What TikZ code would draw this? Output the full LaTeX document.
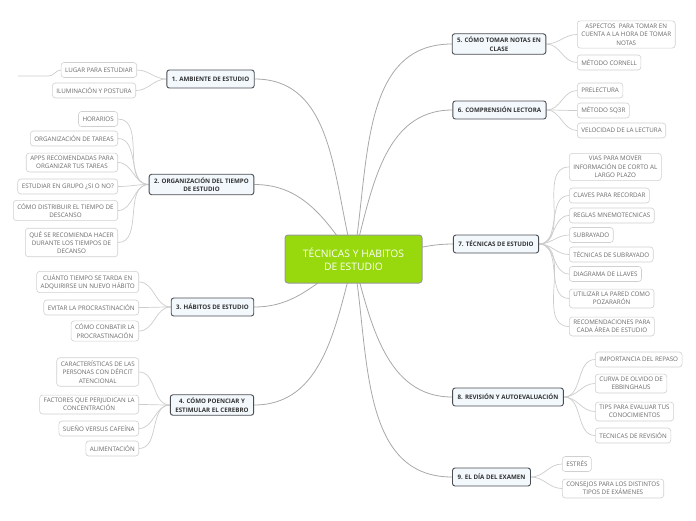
\documentclass[tikz,border=0pt]{standalone}
\usepackage{fontspec}
\setmainfont{Open Sans}
\usetikzlibrary{positioning,backgrounds}
\definecolor{rootgreen}{HTML}{97D90D}
\definecolor{branchfill}{HTML}{F3F8FD}
\definecolor{branchline}{HTML}{4A4D52}
\definecolor{leafline}{HTML}{D0D0D0}
\definecolor{leaftext}{HTML}{6A6A6A}
\definecolor{linkgray}{HTML}{A8A8A8}
\definecolor{twiggray}{HTML}{CCCCCC}

\begin{document}
\begin{tikzpicture}[x=1pt,y=-1pt,
root/.style={draw=gray!80,line width=1pt,fill=rootgreen,rounded corners=3pt,text=white,
  align=center,font=\fontsize{10.3}{13.5}\selectfont,minimum width=137pt,minimum height=48pt},
branch/.style={draw=branchline,line width=0.9pt,fill=branchfill,rounded corners=2.5pt,text=black!80,
  align=center,font=\fontsize{6.2}{8.6}\selectfont\bfseries,inner xsep=5pt,inner ysep=3pt,minimum height=18pt},
leaf/.style={draw=leafline,line width=0.6pt,fill=white,rounded corners=3pt,text=leaftext,
  align=center,font=\fontsize{6.25}{8.3}\selectfont,inner xsep=4pt,inner ysep=3pt,minimum height=15pt},
link/.style={draw=linkgray,line width=0.8pt},
twig/.style={draw=twiggray,line width=0.7pt}]
\useasboundingbox (0,0) rectangle (696,520);

% centre
\node[root] (T) at (353.5,259) {TÉCNICAS Y HABITOS\\DE ESTUDIO};

% main topics
\node[branch] (B1) at (210.5,79) {1. AMBIENTE DE ESTUDIO};
\node[branch] (B2) at (201.5,184.5) {2. ORGANIZACIÓN DEL TIEMPO\\DE ESTUDIO};
\node[branch] (B3) at (212.5,307) {3. HÁBITOS DE ESTUDIO};
\node[branch] (B4) at (212,405) {4. CÓMO POENCIAR Y\\ESTIMULAR EL CEREBRO};
\node[branch] (B5) at (499,44) {5. CÓMO TOMAR NOTAS EN\\CLASE};
\node[branch] (B6) at (499.5,110) {6. COMPRENSIÓN LECTORA};
\node[branch] (B7) at (496,244) {7. TÉCNICAS DE ESTUDIO};
\node[branch] (B8) at (508,397) {8. REVISIÓN Y AUTOEVALUACIÓN};
\node[branch] (B9) at (491.5,477) {9. EL DÍA DEL EXAMEN};

% 1
\node[leaf,anchor=east] (L11) at (137,70) {LUGAR PARA ESTUDIAR};
\node[leaf,anchor=east] (L12) at (136,90.5) {ILUMINACIÓN Y POSTURA};
\coordinate (L1x) at (18,76);
% 2
\node[leaf,anchor=east] (L21) at (118,119) {HORARIOS};
\node[leaf,anchor=east] (L22) at (118,138.5) {ORGANIZACIÓN DE TAREAS};
\node[leaf,anchor=east] (L23) at (118,162.5) {APPS RECOMENDADAS PARA\\ORGANIZAR TUS TAREAS};
\node[leaf,anchor=east] (L24) at (118,186.5) {ESTUDIAR EN GRUPO ¿SI O NO?};
\node[leaf,anchor=east] (L25) at (118,210.5) {CÓMO DISTRIBUIR EL TIEMPO DE\\DESCANSO};
\node[leaf,anchor=east] (L26) at (118,242.5) {QUÉ SE RECOMIENDA HACER\\DURANTE LOS TIEMPOS DE\\DECANSO};
% 3
\node[leaf,anchor=east] (L31) at (139,282) {CUÁNTO TIEMPO SE TARDA EN\\ADQUIRIRSE UN NUEVO HÁBITO};
\node[leaf,anchor=east] (L32) at (139,307.5) {EVITAR LA PROCRASTINACIÓN};
\node[leaf,anchor=east] (L33) at (139,331) {CÓMO CONBATIR LA\\PROCRASTINACIÓN};
% 4
\node[leaf,anchor=east] (L41) at (139,372) {CARACTERÍSTICAS DE LAS\\PERSONAS CON DÉFICIT\\ATENCIONAL};
\node[leaf,anchor=east] (L42) at (139,404.5) {FACTORES QUE PERJUDICAN LA\\CONCENTRACIÓN};
\node[leaf,anchor=east] (L43) at (139,428.5) {SUEÑO VERSUS CAFEÍNA};
\node[leaf,anchor=east] (L44) at (139,448.5) {ALIMENTACIÓN};
% 5
\node[leaf,anchor=west] (L51) at (577,34.5) {ASPECTOS \ PARA TOMAR EN\\CUENTA A LA HORA DE TOMAR\\NOTAS};
\node[leaf,anchor=west] (L52) at (577,62.5) {MÉTODO CORNELL};
% 6
\node[leaf,anchor=west] (L61) at (577,90.5) {PRELECTURA};
\node[leaf,anchor=west] (L62) at (577,110.5) {MÉTODO SQ3R};
\node[leaf,anchor=west] (L63) at (577,130.5) {VELOCIDAD DE LA LECTURA};
% 7
\node[leaf,anchor=west] (L71) at (569,167) {VIAS PARA MOVER\\INFORMACIÓN DE CORTO AL\\LARGO PLAZO};
\node[leaf,anchor=west] (L72) at (569,195.5) {CLAVES PARA RECORDAR};
\node[leaf,anchor=west] (L73) at (569,215.5) {REGLAS MNEMOTECNICAS};
\node[leaf,anchor=west] (L74) at (569,235) {SUBRAYADO};
\node[leaf,anchor=west] (L75) at (569,254.5) {TÉCNICAS DE SUBRAYADO};
\node[leaf,anchor=west] (L76) at (569,274) {DIAGRAMA DE LLAVES};
\node[leaf,anchor=west] (L77) at (569,298.5) {UTILIZAR LA PARED COMO\\POZARARÓN};
\node[leaf,anchor=west] (L78) at (569,326.5) {RECOMENDACIONES PARA\\CADA ÁREA DE ESTUDIO};
% 8
\node[leaf,anchor=west] (L81) at (595,359.5) {IMPORTANCIA DEL REPASO};
\node[leaf,anchor=west] (L82) at (595,383.5) {CURVA DE OLVIDO DE\\EBBINGHAUS};
\node[leaf,anchor=west] (L83) at (595,411.5) {TIPS PARA EVALUAR TUS\\CONOCIMIENTOS};
\node[leaf,anchor=west] (L84) at (595,435.5) {TECNICAS DE REVISIÓN};
% 9
\node[leaf,anchor=west] (L91) at (562,464) {ESTRÉS};
\node[leaf,anchor=west] (L92) at (562,488.5) {CONSEJOS PARA LOS DISTINTOS\\TIPOS DE EXÁMENES};

\begin{scope}[on background layer]
\draw[link] (T.center) to[out=105,in=0] (B1.east);
\draw[link] (T.center) to[out=125,in=0] (B2.east);
\draw[link] (T.center) to[out=-150,in=0] (B3.east);
\draw[link] (T.center) to[out=-105,in=0] (B4.east);
\draw[link] (T.center) to[out=80,in=180] (B5.west);
\draw[link] (T.center) to[out=75,in=180] (B6.west);
\draw[link] (T.center) to[out=0,in=180] (B7.west);
\draw[link] (T.center) to[out=-75,in=180] (B8.west);
\draw[link] (T.center) to[out=-80,in=180] (B9.west);

\draw[twig] (B1.west) to[out=180,in=0] (L11.east);
\draw[twig] (B1.west) to[out=180,in=0] (L12.east);
\draw[twig] (L11.west) to[out=180,in=0] ++(-12,6) -- (L1x);
\foreach \k in {1,...,6} {\draw[twig] (B2.west) to[out=180,in=0] (L2\k.east);}
\foreach \k in {1,2,3} {\draw[twig] (B3.west) to[out=180,in=0] (L3\k.east);}
\foreach \k in {1,...,4} {\draw[twig] (B4.west) to[out=180,in=0] (L4\k.east);}
\foreach \k in {1,2} {\draw[twig] (B5.east) to[out=0,in=180] (L5\k.west);}
\foreach \k in {1,2,3} {\draw[twig] (B6.east) to[out=0,in=180] (L6\k.west);}
\foreach \k in {1,...,8} {\draw[twig] (B7.east) to[out=0,in=180] (L7\k.west);}
\foreach \k in {1,...,4} {\draw[twig] (B8.east) to[out=0,in=180] (L8\k.west);}
\foreach \k in {1,2} {\draw[twig] (B9.east) to[out=0,in=180] (L9\k.west);}
\end{scope}
\end{tikzpicture}
\end{document}
